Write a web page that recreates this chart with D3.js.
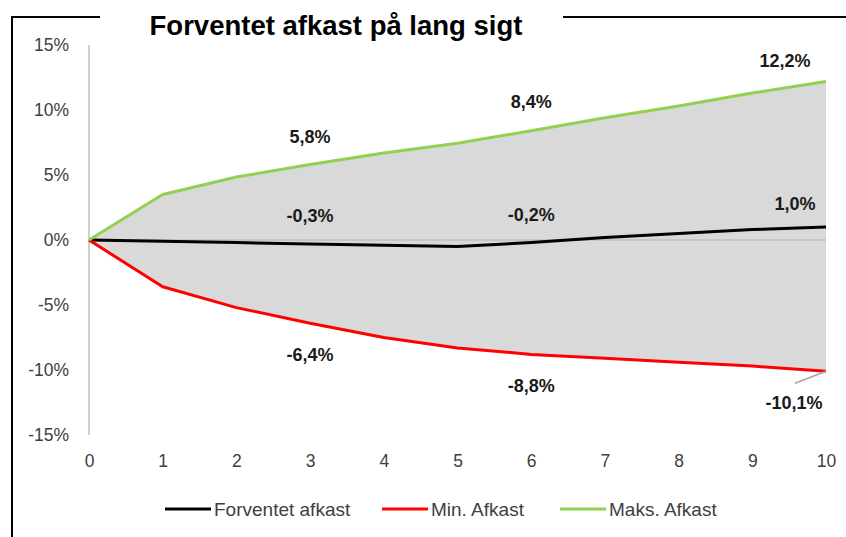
<!DOCTYPE html>
<html>
<head>
<meta charset="utf-8">
<script src="https://cdn.jsdelivr.net/npm/d3@7"></script>
<style>
  body { margin: 0; background: #fff; }
  svg { display: block; font-family: "Liberation Sans", Arial, sans-serif; }
</style>
</head>
<body>
<svg id="chart" width="846" height="537"></svg>
<script>
// years ahead
var years = [0, 1, 2, 3, 4, 5, 6, 7, 8, 9, 10];

// series values in percent
var forventet = [0, -0.1, -0.2, -0.3, -0.4, -0.5, -0.2, 0.2, 0.5, 0.8, 1.0];
var minAfkast = [0, -3.6, -5.2, -6.4, -7.5, -8.3, -8.8, -9.1, -9.4, -9.7, -10.1];
var maksAfkast = [0, 3.5, 4.85, 5.8, 6.7, 7.45, 8.4, 9.4, 10.3, 11.3, 12.2];

var seriesNames = ["Forventet afkast", "Min. Afkast", "Maks. Afkast"];
var yTicks = [-15, -10, -5, 0, 5, 10, 15];

// which points get a value label
var labelIdx = [3, 6, 10];

var title = "Forventet afkast på lang sigt";

var svg = d3.select("#chart");

var x = d3.scaleLinear().domain([0, 10]).range([89, 826]);
var y = d3.scaleLinear().domain([-15, 15]).range([435, 45]);

var colors = ["#000000", "#ff0000", "#92d050"];
var allSeries = [forventet, minAfkast, maksAfkast];

// label offsets from the point (dx, dy) - hand placed like in the excel chart
var labelOffsets = [
	[[0, -28], [0, -28], [-31, -23]],
	[[0, 31], [0, 31], [-32, 31]],
	[[0, -28], [0, -29], [-41, -21]]
];

// frame round the chart (only left and top visible)
svg.append("path")
	.attr("d", "M100,17 L12,17 L12,540")
	.attr("fill", "none").attr("stroke", "#000").attr("stroke-width", 2);
svg.append("line")
	.attr("x1", 563).attr("x2", 848).attr("y1", 17).attr("y2", 17)
	.attr("stroke", "#000").attr("stroke-width", 2);

// title
svg.append("text")
	.attr("x", 336).attr("y", 35)
	.attr("text-anchor", "middle")
	.attr("font-size", 27.5).attr("font-weight", "bold")
	.attr("fill", "#000")
	.text(title);

// gray band between min and max
var band = d3.area()
	.x(function(d, i) { return x(years[i]); })
	.y0(function(d, i) { return y(minAfkast[i]); })
	.y1(function(d, i) { return y(maksAfkast[i]); });

svg.append("path")
	.datum(years)
	.attr("d", band)
	.attr("fill", "#d9d9d9");

// y axis
var yAxis = d3.axisLeft(y).tickValues(yTicks).tickSize(0).tickPadding(0)
	.tickFormat(function(d) { return d + "%"; });
var gy = svg.append("g").attr("transform", "translate(69,0)").call(yAxis);
gy.select(".domain").remove();
gy.selectAll("text").attr("font-size", 17.5).attr("fill", "#404040")
	.attr("font-family", "Liberation Sans, Arial, sans-serif");

svg.append("line")
	.attr("x1", x(0)).attr("x2", x(0))
	.attr("y1", y(15)).attr("y2", y(-15))
	.attr("stroke", "#bfbfbf").attr("stroke-width", 1.5);

// x axis labels
var xAxis = d3.axisBottom(x).tickValues(years).tickSize(0).tickPadding(0)
	.tickFormat(d3.format("d"));
var gx = svg.append("g").attr("transform", "translate(0,455)").call(xAxis);
gx.select(".domain").remove();
gx.selectAll("text").attr("font-size", 17.5).attr("fill", "#404040")
	.attr("font-family", "Liberation Sans, Arial, sans-serif");

// zero line
svg.append("line")
	.attr("x1", x(0)).attr("x2", x(10))
	.attr("y1", y(0)).attr("y2", y(0))
	.attr("stroke", "#bfbfbf").attr("stroke-width", 1.5);

// series lines
var line = d3.line()
	.x(function(d, i) { return x(years[i]); })
	.y(function(d) { return y(d); });

for (var s = 0; s < allSeries.length; s++) {
	svg.append("path")
		.datum(allSeries[s])
		.attr("d", line)
		.attr("fill", "none")
		.attr("stroke", colors[s])
		.attr("stroke-width", 3)
		.attr("stroke-linejoin", "round");
}

// leader line for the last min label
var lastI = labelIdx[2];
svg.append("line")
	.attr("x1", x(years[lastI])).attr("y1", y(minAfkast[lastI]))
	.attr("x2", x(years[lastI]) - 31).attr("y2", y(minAfkast[lastI]) + 12)
	.attr("stroke", "#a6a6a6").attr("stroke-width", 1.5);

// value labels
var fmt = function(v) { return v.toFixed(1).replace(".", ",") + "%"; };
for (var s = 0; s < allSeries.length; s++) {
	for (var k = 0; k < labelIdx.length; k++) {
		var i = labelIdx[k];
		svg.append("text")
			.attr("x", x(years[i]) + labelOffsets[s][k][0])
			.attr("y", y(allSeries[s][i]) + labelOffsets[s][k][1])
			.attr("dy", "0.35em")
			.attr("text-anchor", "middle")
			.attr("font-size", 18).attr("font-weight", "bold")
			.attr("fill", "#1a1a1a")
			.text(fmt(allSeries[s][i]));
	}
}

// legend
var legendX = [165, 382, 560];
var legend = svg.selectAll(".legend")
	.data(seriesNames)
	.enter().append("g")
	.attr("class", "legend")
	.attr("transform", function(d, i) { return "translate(" + legendX[i] + ",509)"; });

legend.append("line")
	.attr("x1", 0).attr("x2", 46).attr("y1", 0).attr("y2", 0)
	.attr("stroke", function(d, i) { return colors[i]; })
	.attr("stroke-width", 3);

legend.append("text")
	.attr("x", 49).attr("dy", "0.35em")
	.attr("font-size", 19).attr("fill", "#404040")
	.text(function(d) { return d; });
</script>
</body>
</html>
